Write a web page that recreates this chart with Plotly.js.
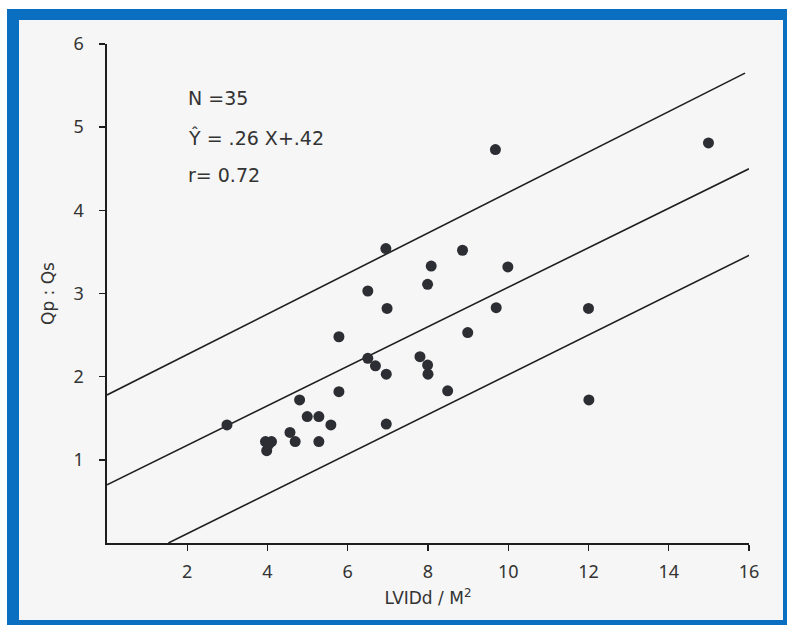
<!DOCTYPE html>
<html>
<head>
<meta charset="utf-8">
<script src="https://cdn.plot.ly/plotly-3.0.1.min.js"></script>
<style>
  html, body { margin: 0; padding: 0; background: #ffffff; }
  #wrap { position: relative; width: 787px; height: 625px; overflow: hidden; background: #ffffff; }
  #inner { position: absolute; left: 7px; top: 9px; width: 780px; height: 616px; box-sizing: border-box;
           border-left: 12px solid #0b6fc1; border-top: 11px solid #0b6fc1; border-right: 4px solid #0b6fc1;
           border-bottom: 5px solid #0b6fc1; background: #f5f6f5; }
  #chart { position: absolute; left: 0; top: 0; width: 787px; height: 625px; }
</style>
</head>
<body>
<div id="wrap">
  <div id="inner"></div>
  <div id="chart"></div>
</div>
<script>
// Scatter data: LVIDd / M^2 (x) vs Qp : Qs (y), N = 35
const lvidd = [9.68, 14.99, 6.95, 8.86, 8.08, 9.99, 7.99, 6.50, 6.98, 9.70,
               12.00, 8.99, 5.78, 6.50, 6.69, 7.80, 7.99, 8.00, 6.96, 8.49,
               5.78, 4.80, 12.01, 4.99, 5.28, 5.58, 2.99, 6.96, 4.56, 4.69,
               5.28, 3.95, 4.10, 3.98, 4.02];
const qpqs  = [4.73, 4.81, 3.54, 3.52, 3.33, 3.32, 3.11, 3.03, 2.82, 2.83,
               2.82, 2.53, 2.48, 2.22, 2.13, 2.24, 2.14, 2.03, 2.03, 1.83,
               1.82, 1.72, 1.72, 1.52, 1.52, 1.42, 1.42, 1.43, 1.33, 1.22,
               1.22, 1.22, 1.22, 1.11, 1.18];

// Regression line and confidence bands (endpoints)
const upperX  = [0, 15.9];
const upperY  = [1.78, 5.65];
const middleX = [0, 16];
const middleY = [0.70, 4.50];
const lowerX  = [1.53, 16.05];
const lowerY  = [0, 3.47];

// Tick labels
const xTicks = [2, 4, 6, 8, 10, 12, 14, 16];
const yTicks = [1, 2, 3, 4, 5, 6];

const font = "Noto Sans, DejaVu Sans, sans-serif";
const noteFont = "DejaVu Sans, Noto Sans, sans-serif";
const ink = "#2a2a2a";

const lineStyle = { color: "#1e1e1e", width: 1.6 };

const traces = [
  { x: upperX, y: upperY, mode: "lines", line: lineStyle, hoverinfo: "skip", cliponaxis: false },
  { x: middleX, y: middleY, mode: "lines", line: lineStyle, hoverinfo: "skip", cliponaxis: false },
  { x: lowerX, y: lowerY, mode: "lines", line: lineStyle, hoverinfo: "skip", cliponaxis: false },
  { x: lvidd, y: qpqs, mode: "markers", marker: { size: 11, color: "#2c2e34" }, cliponaxis: false }
];

const layout = {
  width: 787, height: 625,
  paper_bgcolor: "rgba(0,0,0,0)",
  plot_bgcolor: "rgba(0,0,0,0)",
  showlegend: false,
  margin: { l: 107, r: 37.5, t: 44, b: 82, pad: 0 },
  font: { family: font, color: ink, size: 17 },
  xaxis: {
    range: [0, 16], tickvals: xTicks, ticktext: xTicks.map(String),
    showgrid: false, zeroline: false, showline: true, linecolor: "#1e1e1e", linewidth: 1.6,
    ticks: "outside", ticklen: 6, tickwidth: 1.4, tickcolor: "#1e1e1e",
    tickfont: { family: font, size: 18, color: "#333" }, ticklabelstandoff: 6,
    title: { text: "LVIDd / M<sup>2</sup>", font: { family: noteFont, size: 17, color: "#333" }, standoff: 10 }
  },
  yaxis: {
    range: [0, 6], tickvals: yTicks, ticktext: yTicks.map(String),
    showgrid: false, zeroline: false, showline: true, linecolor: "#1e1e1e", linewidth: 1.6,
    ticks: "outside", ticklen: 6, tickwidth: 1.4, tickcolor: "#1e1e1e",
    tickfont: { family: font, size: 18, color: "#333" }, ticklabelstandoff: 12,
    title: { text: "Qp : Qs", font: { family: noteFont, size: 17, color: "#333" }, standoff: 14 }
  },
  annotations: [
    { x: 1.96, y: 5.35, xref: "x", yref: "y", text: "N =35", showarrow: false, xanchor: "left", yanchor: "middle",
      font: { family: noteFont, size: 19, color: "#333" } },
    { x: 1.96, y: 4.88, xref: "x", yref: "y", text: "Ŷ = .26 X+.42", showarrow: false, xanchor: "left", yanchor: "middle",
      font: { family: noteFont, size: 19, color: "#333" } },
    { x: 1.96, y: 4.43, xref: "x", yref: "y", text: "r= 0.72", showarrow: false, xanchor: "left", yanchor: "middle",
      font: { family: noteFont, size: 19, color: "#333" } }
  ]
};

Plotly.newPlot("chart", traces, layout, { displayModeBar: false, staticPlot: true });
</script>
</body>
</html>
